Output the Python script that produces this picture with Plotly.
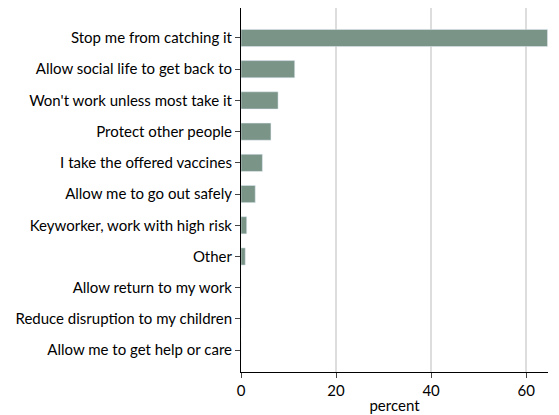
import plotly.graph_objects as go

reasons = [
    "Stop me from catching it",
    "Allow social life to get back to",
    "Won't work unless most take it",
    "Protect other people",
    "I take the offered vaccines",
    "Allow me to go out safely",
    "Keyworker, work with high risk",
    "Other",
    "Allow return to my work",
    "Reduce disruption to my children",
    "Allow me to get help or care",
]
percent = [64.5, 11.3, 7.8, 6.3, 4.5, 3.0, 1.2, 0.9, 0, 0, 0]

fig = go.Figure(go.Bar(
    x=percent, y=reasons, orientation="h",
    marker_color="#7a9488", width=0.55,
))

# page body adds an 8px offset, so the figure is sized to the remaining space
fig.update_layout(
    width=551, height=407,
    margin=dict(l=233, r=11, t=0, b=43),
    plot_bgcolor="white", paper_bgcolor="white",
    font=dict(family="Lato", size=15, color="black"),
    showlegend=False,
)
fig.update_xaxes(
    range=[0, 64.6], tickvals=[0, 20, 40, 60], automargin=False,
    showgrid=True, gridcolor="#dddddd", gridwidth=1.5,
    showline=True, linecolor="black", ticks="outside", ticklen=5,
    title=dict(text="percent", standoff=2, font=dict(size=15)), zeroline=False,
)
fig.update_yaxes(
    range=[10.7, -0.96], showline=True, linecolor="black", automargin=False,
    ticks="outside", ticklen=5,
)

fig.write_html("out.html")
